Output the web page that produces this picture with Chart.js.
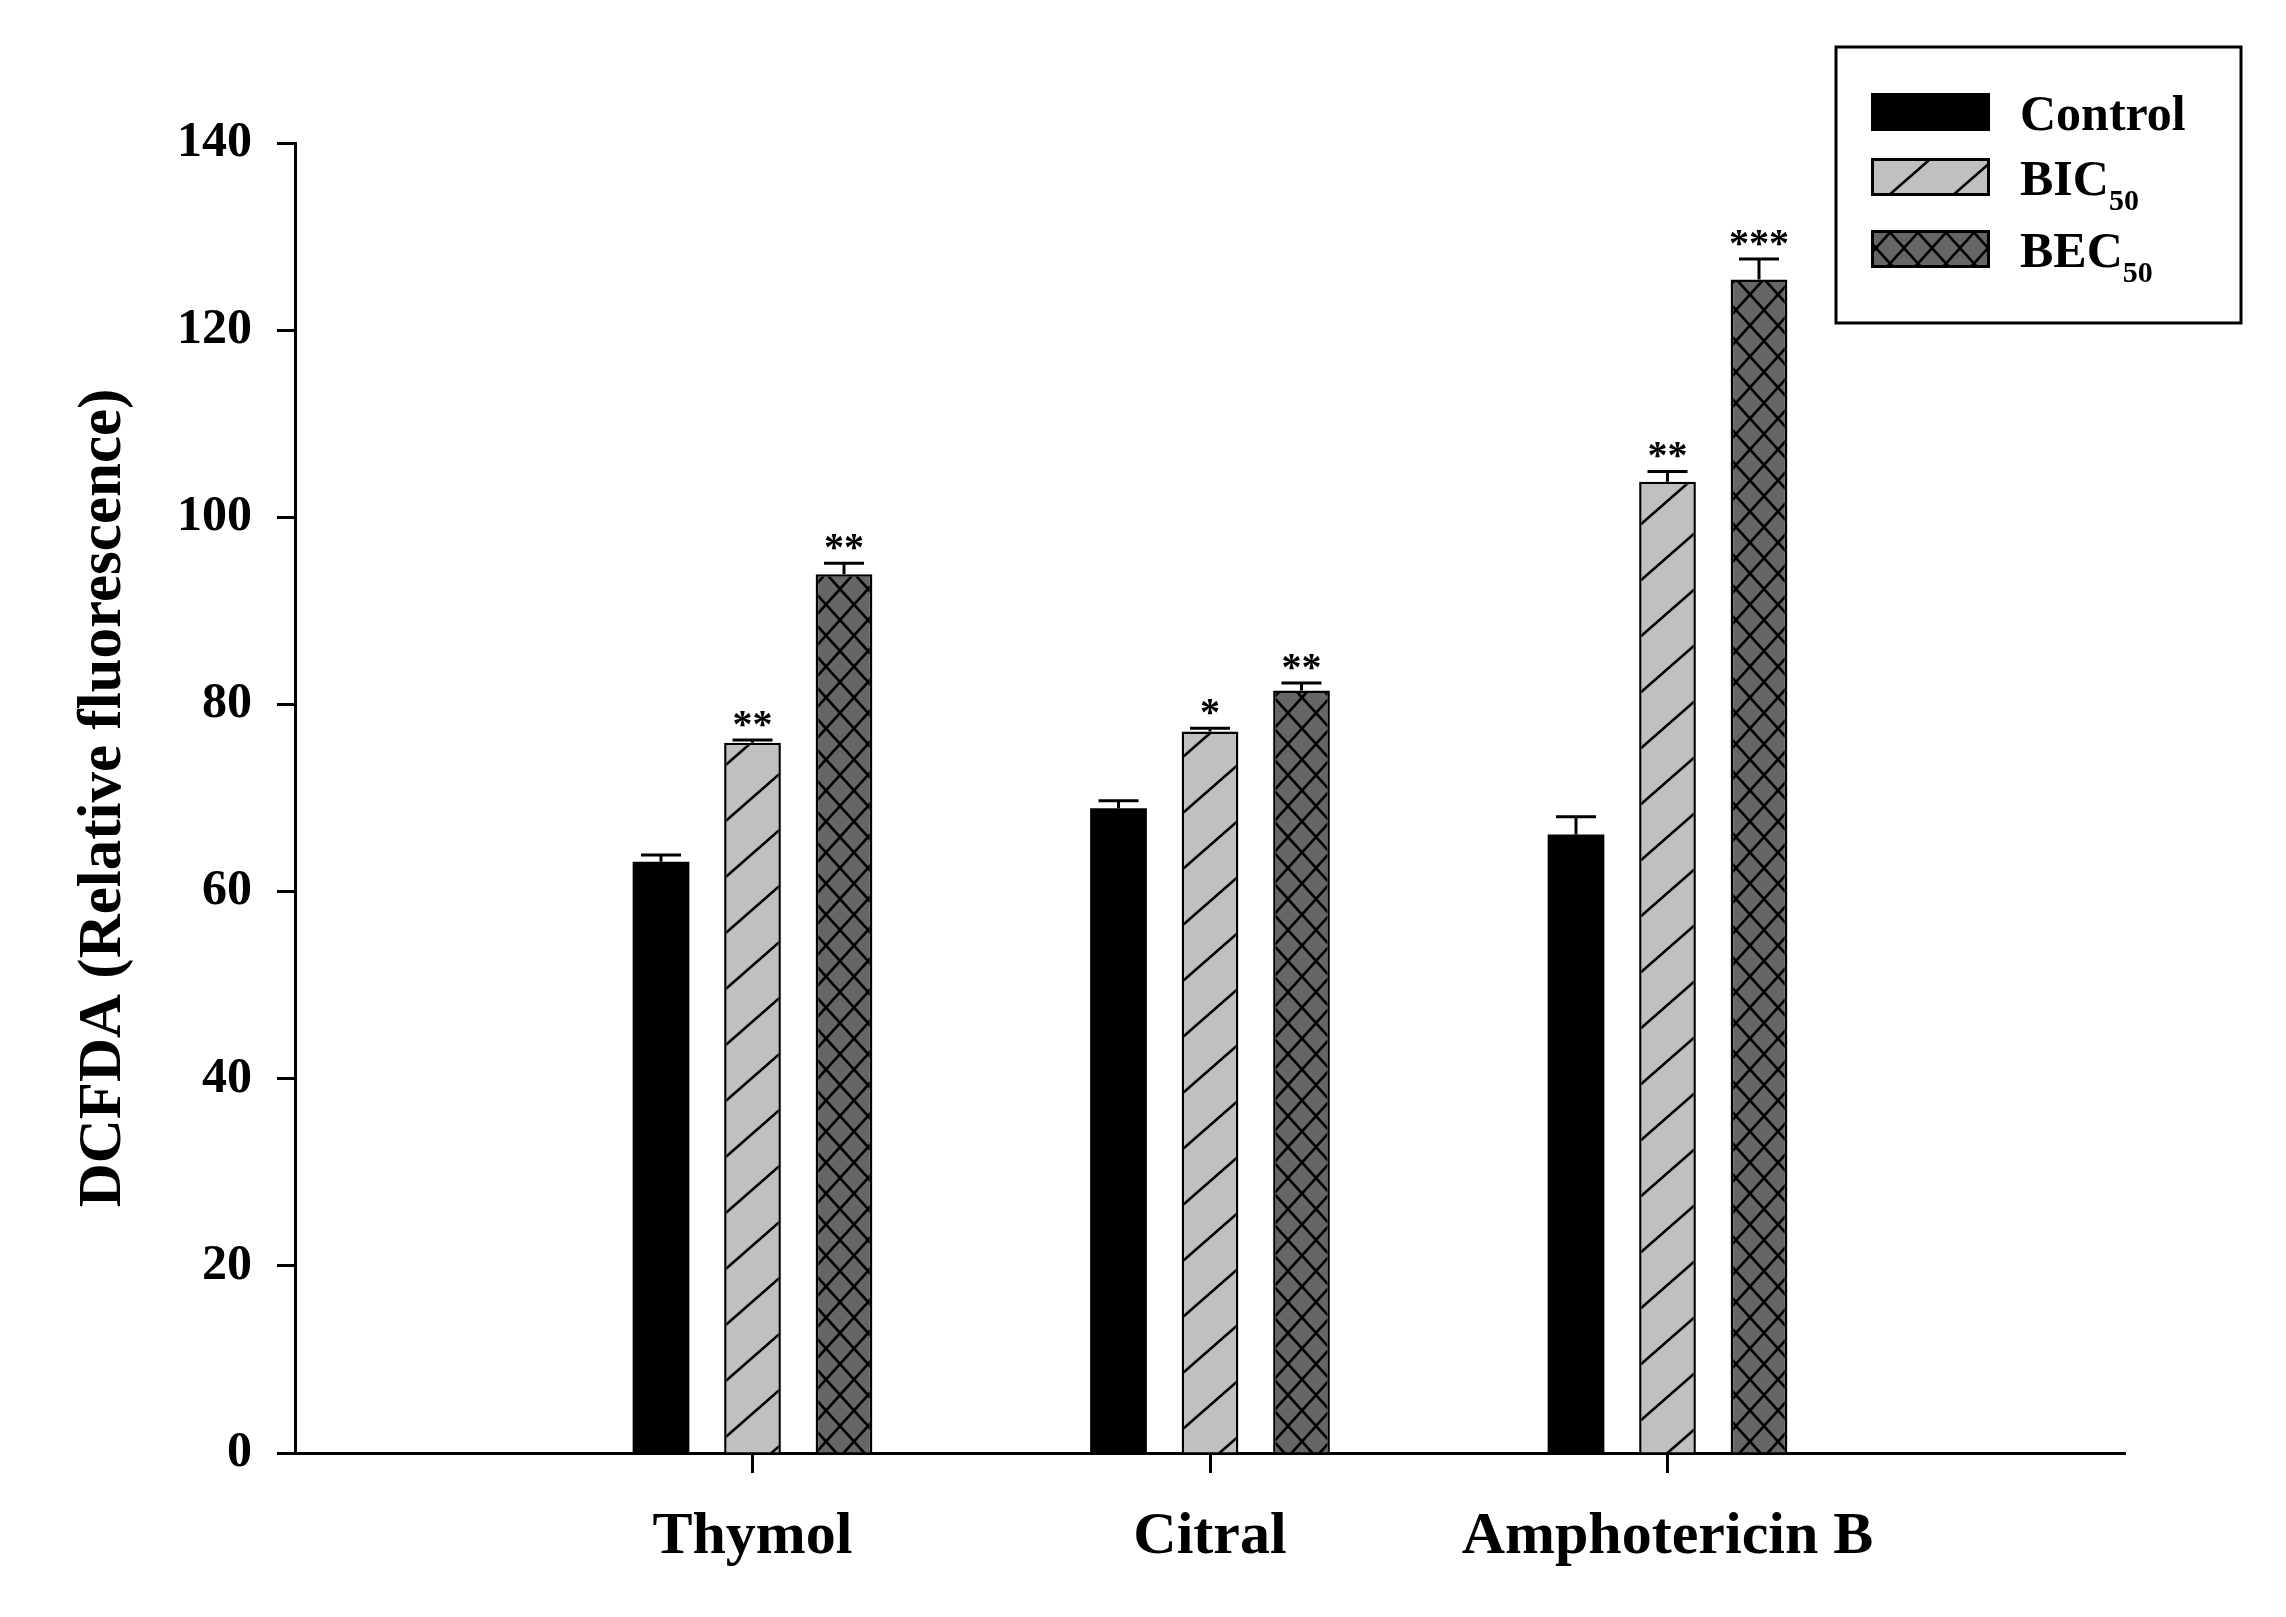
<!DOCTYPE html>
<html>
<head>
<meta charset="utf-8">
<script src="https://cdn.jsdelivr.net/npm/chart.js@4.4.1/dist/chart.umd.min.js"></script>
<style>
  html, body { margin: 0; padding: 0; background: #ffffff; }
  #wrap { width: 2286px; height: 1617px; position: relative; }
</style>
</head>
<body>
<div id="wrap"><canvas id="c" width="2286" height="1617"></canvas></div>
<script>
// ---- data ----
const categories = ['', 'Thymol', 'Citral', 'Amphotericin B', ''];
const seriesNames = ['Control', 'BIC', 'BEC'];
const seriesSub = ['', '50', '50'];
const controlValues = [null, 63.2, 68.9, 66.1, null];
const controlErrors = [null, 0.7, 0.8, 1.9, null];
const bicValues = [null, 75.9, 77.1, 103.8, null];
const bicErrors = [null, 0.3, 0.35, 1.1, null];
const becValues = [null, 93.9, 81.5, 125.4, null];
const becErrors = [null, 1.2, 0.8, 2.2, null];
const controlStars = [null, '', '', '', null];
const bicStars = [null, '**', '*', '**', null];
const becStars = [null, '**', '**', '***', null];
const yTicks = [0, 20, 40, 60, 80, 100, 120, 140];
const yTitle = 'DCFDA (Relative fluorescence)';

const FONT = '"Liberation Serif", "Times New Roman", serif';

// ---- patterns ----
function hatchPattern(ctx) {
  const w = 64, h = 56;
  const c = document.createElement('canvas');
  c.width = w; c.height = h;
  const g = c.getContext('2d');
  g.fillStyle = '#c0c0c0';
  g.fillRect(0, 0, w, h);
  g.strokeStyle = '#000';
  g.lineWidth = 2.6;
  for (const off of [-h, 0, h]) {
    g.beginPath();
    g.moveTo(-w, h + off + h);
    g.lineTo(2 * w, off - h);
    g.stroke();
  }
  return ctx.createPattern(c, 'repeat');
}
function crossPattern(ctx) {
  const w = 28, h = 31;
  const c = document.createElement('canvas');
  c.width = w; c.height = h;
  const g = c.getContext('2d');
  g.fillStyle = '#666666';
  g.fillRect(0, 0, w, h);
  g.strokeStyle = '#000';
  g.lineWidth = 2.6;
  g.beginPath();
  g.moveTo(-w, -h); g.lineTo(2 * w, 2 * h);
  g.moveTo(-w, 2 * h); g.lineTo(2 * w, -h);
  g.stroke();
  return ctx.createPattern(c, 'repeat');
}

const canvas = document.getElementById('c');
const ctx0 = canvas.getContext('2d');
const fills = ['#000000', hatchPattern(ctx0), crossPattern(ctx0)];
const errorSets = [controlErrors, bicErrors, becErrors];
const starSets = [controlStars, bicStars, becStars];

// ---- plugins ----
const errorBarPlugin = {
  id: 'errorBars',
  afterDatasetsDraw(chart) {
    const ctx = chart.ctx;
    const y = chart.scales.y;
    ctx.save();
    chart.data.datasets.forEach((ds, i) => {
      const meta = chart.getDatasetMeta(i);
      meta.data.forEach((el, j) => {
        const v = ds.data[j];
        if (v === null || v === undefined) return;
        const err = errorSets[i][j] || 0;
        const yTop = y.getPixelForValue(v);
        const yErr = y.getPixelForValue(v + err);
        ctx.strokeStyle = '#000';
        ctx.lineWidth = 3;
        ctx.beginPath();
        ctx.moveTo(el.x, yTop);
        ctx.lineTo(el.x, yErr);
        ctx.moveTo(el.x - 20, yErr);
        ctx.lineTo(el.x + 20, yErr);
        ctx.stroke();
        const s = starSets[i][j];
        if (s) {
          ctx.fillStyle = '#000';
          ctx.font = 'bold 40px ' + FONT;
          ctx.textAlign = 'center';
          ctx.textBaseline = 'alphabetic';
          ctx.fillText(s, el.x, yErr - 3);
        }
      });
    });
    ctx.restore();
  }
};

const legendPlugin = {
  id: 'customLegend',
  afterDraw(chart) {
    const ctx = chart.ctx;
    ctx.save();
    // box
    ctx.strokeStyle = '#000';
    ctx.lineWidth = 3;
    ctx.strokeRect(1836, 47, 405, 276);
    const rows = [112, 177, 249];
    rows.forEach((cy, i) => {
      const x = 1871, w = 119, h = 38;
      ctx.fillStyle = fills[i];
      ctx.fillRect(x, cy - h / 2, w, h);
      ctx.strokeStyle = '#000';
      ctx.lineWidth = 3;
      ctx.strokeRect(x + 1.5, cy - h / 2 + 1.5, w - 3, h - 3);
      ctx.fillStyle = '#000';
      ctx.textAlign = 'left';
      ctx.textBaseline = 'alphabetic';
      ctx.font = 'bold 50px ' + FONT;
      const base = cy + 18;
      ctx.fillText(seriesNames[i], 2020, base);
      if (seriesSub[i]) {
        const tw = ctx.measureText(seriesNames[i]).width;
        ctx.font = 'bold 30px ' + FONT;
        ctx.fillText(seriesSub[i], 2020 + tw, base + 15);
      }
    });
    ctx.restore();
  }
};

const mk = (label, data, i, bw) => ({
  label, data,
  backgroundColor: fills[i],
  borderColor: '#000',
  borderWidth: bw,
  borderSkipped: 'start',
  categoryPercentage: 0.6,
  barPercentage: 0.62
});

new Chart(canvas, {
  type: 'bar',
  data: {
    labels: categories,
    datasets: [
      mk(seriesNames[0], controlValues, 0, 0),
      mk(seriesNames[1] + seriesSub[1], bicValues, 1, 2.5),
      mk(seriesNames[2] + seriesSub[2], becValues, 2, 2.5)
    ]
  },
  options: {
    responsive: false,
    animation: false,
    devicePixelRatio: 1,
    layout: { padding: { left: 0, right: 161, top: 143, bottom: 0 } },
    plugins: { legend: { display: false }, tooltip: { enabled: false } },
    scales: {
      x: {
        type: 'category',
        offset: false,
        grid: {
          offset: false,
          drawOnChartArea: false,
          drawTicks: true,
          tickLength: 20,
          tickWidth: 3,
          tickColor: (c) => (c.index === 0 || c.index === categories.length - 1) ? 'rgba(0,0,0,0)' : '#000'
        },
        border: { display: true, color: '#000', width: 3 },
        ticks: {
          color: '#000',
          padding: 28,
          autoSkip: false,
          maxRotation: 0,
          font: { family: FONT, size: 60, weight: 'bold', lineHeight: 1.2 }
        },
        afterFit(scale) { scale.height = 164; }
      },
      y: {
        min: 0, max: 140,
        afterBuildTicks(scale) { scale.ticks = yTicks.map(v => ({ value: v })); },
        grid: {
          drawOnChartArea: false,
          drawTicks: true,
          tickLength: 18,
          tickWidth: 3,
          tickColor: '#000'
        },
        border: { display: true, color: '#000', width: 3 },
        ticks: {
          color: '#000',
          padding: 25,
          font: { family: FONT, size: 50, weight: 'bold' }
        },
        title: {
          display: true,
          text: yTitle,
          color: '#000',
          padding: { top: 74, bottom: 0 },
          font: { family: FONT, size: 61, weight: 'bold', lineHeight: 1 }
        },
        afterFit(scale) { scale.width = 295; }
      }
    }
  },
  plugins: [errorBarPlugin, legendPlugin]
});
</script>
</body>
</html>
